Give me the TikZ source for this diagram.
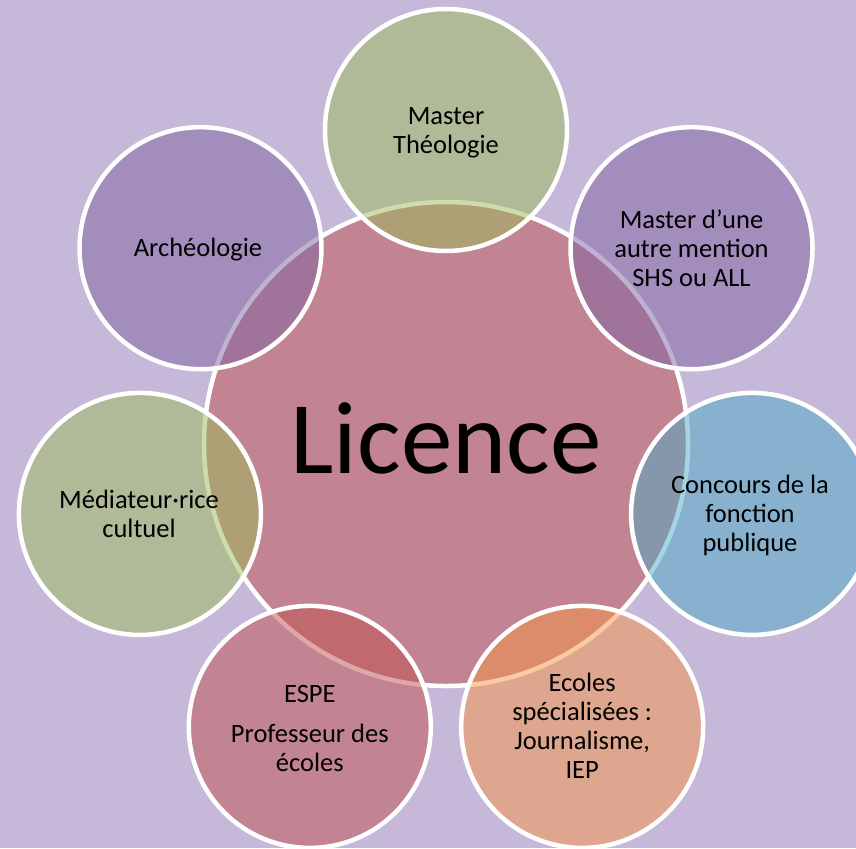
\documentclass[tikz,border=0pt]{standalone}
\usepackage{fontspec}
\setmainfont{Carlito}
\definecolor{bg}{RGB}{198,184,217}
\definecolor{ored}{HTML}{C0504D}
\definecolor{opurple}{HTML}{8064A2}
\definecolor{oolive}{HTML}{9BBB59}
\definecolor{oaqua}{HTML}{4BACC6}
\definecolor{oorange}{HTML}{F79646}
\tikzset{
  bubble/.style={circle, inner sep=0pt, minimum size=242pt, draw=white, line width=4.5pt,
    fill opacity=0.5, draw opacity=1, text opacity=1},
  hub/.style={circle, inner sep=0pt, minimum size=484pt, draw=white, line width=4.5pt,
    fill=ored, fill opacity=0.5, draw opacity=1, text opacity=1},
  lbl/.style={align=center, font=\fontsize{26.5}{29}\selectfont, text=black, inner sep=0pt}
}
\begin{document}
\begin{tikzpicture}[x=1pt,y=-1pt]
\fill[bg] (0,0) rectangle (856,848);
\useasboundingbox (0,0) rectangle (856,848);
\node[hub] (c) at (446,444) {};
\node[anchor=base, font=\fontsize{103}{120}\selectfont, inner sep=0pt] (lic) at (446,473) {Licence};
\node[bubble, fill=oolive] (s1) at (446,130) {};
\node[bubble, fill=opurple] (s2) at (691.5,248.2) {};
\node[bubble, fill=oaqua] (s3) at (752.1,513.9) {};
\node[bubble, fill=oorange] (s4) at (582.2,726.9) {};
\node[bubble, fill=ored] (s5) at (309.8,726.9) {};
\node[bubble, fill=oolive] (s6) at (139.9,513.9) {};
\node[bubble, fill=opurple] (s7) at (200.5,248.2) {};
\node[lbl] (t1) at (446,133) {Master\\Théologie};
\node[lbl] (t2) at (691.5,248.5) {Master d’une\\autre mention\\SHS ou ALL};
\node[lbl] (t3) at (750,515) {Concours de la\\fonction\\publique};
\node[lbl] (t4) at (582.2,726) {Ecoles\\spécialisées :\\Journalisme,\\IEP};
\node[lbl] (t5) at (309.8,728) {ESPE\\[11pt]Professeur des\\écoles};
\node[lbl] (t6) at (139,514) {Médiateur·rice\\cultuel};
\node[lbl] (t7) at (198,250) {Archéologie};
\end{tikzpicture}
\end{document}
